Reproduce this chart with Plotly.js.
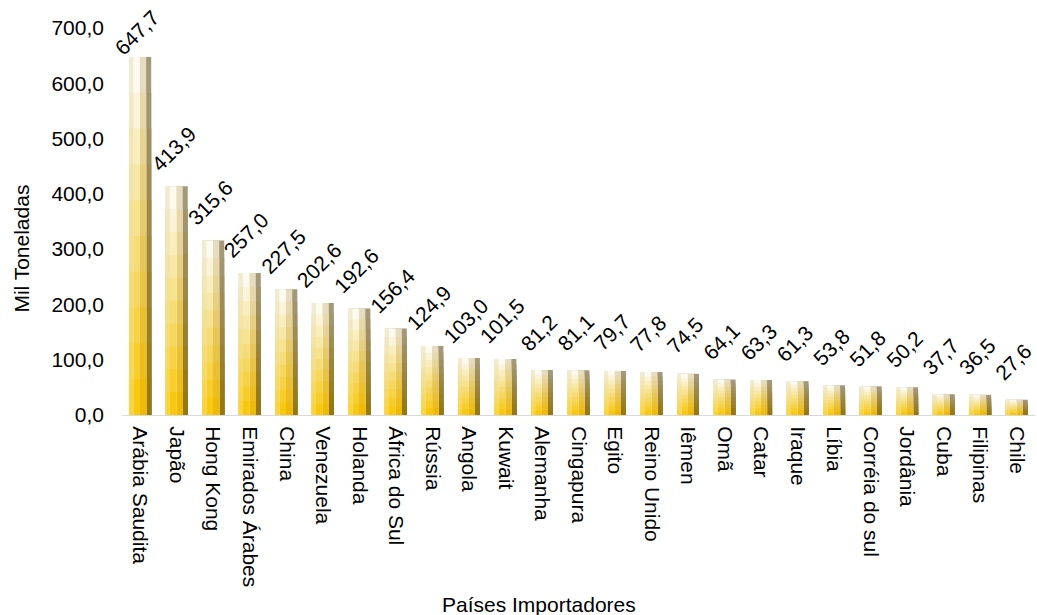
<!DOCTYPE html>
<html>
<head>
<meta charset="utf-8">
<script src="https://cdn.plot.ly/plotly-3.0.1.min.js"></script>
<style>
  html, body { margin: 0; padding: 0; background: #ffffff; }
  #chart { width: 1037px; height: 615px; }
</style>
</head>
<body>
<div id="chart"></div>
<script>
// Importações por país (mil toneladas)
const paises = [
  'Arábia Saudita', 'Japão', 'Hong Kong', 'Emirados Árabes', 'China',
  'Venezuela', 'Holanda', 'África do Sul', 'Rússia', 'Angola', 'Kuwait',
  'Alemanha', 'Cingapura', 'Egito', 'Reino Unido', 'Iêmen', 'Omã', 'Catar',
  'Iraque', 'Líbia', 'Corréia do sul', 'Jordânia', 'Cuba', 'Filipinas', 'Chile'
];
const toneladas = [
  647.7, 413.9, 315.6, 257.0, 227.5, 202.6, 192.6, 156.4, 124.9, 103.0, 101.5,
  81.2, 81.1, 79.7, 77.8, 74.5, 64.1, 63.3, 61.3, 53.8, 51.8, 50.2, 37.7, 36.5, 27.6
];
const yTicks = [0, 100, 200, 300, 400, 500, 600, 700];

// Page geometry
const W = 1037, H = 615;
const margin = { l: 122, r: 2, t: 28, b: 200, autoexpand: false };
const yMax = 700;
const pxPerUnit = (H - margin.t - margin.b) / yMax;

// Bevelled bar look: four vertical columns, each shaded from top to bottom
const barOff = -0.3;
const columns = [
  { width: 0.60, stops: ['#a39878', '#9e8640', '#96780e'] },  // right edge (dark)
  { width: 0.463, stops: ['#e6dcc0', '#e6c862', '#eeba08'] }, // face, right half
  { width: 0.29, stops: ['#fdfaf0', '#f6df82', '#f7c812'] },  // face, left half
  { width: 0.11, stops: ['#f1ebd2', '#f3df90', '#f9d440'] }   // left edge (light)
];
const STEPS = 10;

function hexToRgb(h) {
  return [parseInt(h.slice(1, 3), 16), parseInt(h.slice(3, 5), 16), parseInt(h.slice(5, 7), 16)];
}
function shade(stops, t) {
  const seg = t < 0.5 ? 0 : 1;
  const local = t < 0.5 ? t / 0.5 : (t - 0.5) / 0.5;
  const a = hexToRgb(stops[seg]), b = hexToRgb(stops[seg + 1]);
  const c = a.map((v, i) => Math.round(v + (b[i] - v) * local));
  return 'rgb(' + c.join(',') + ')';
}

const traces = [];
columns.forEach((col, ci) => {
  for (let k = 0; k < STEPS; k++) {
    const frac = (STEPS - k) / STEPS;
    const isMain = ci === 0 && k === 0;
    traces.push({
      type: 'bar',
      x: paises,
      y: isMain ? toneladas : toneladas.map(v => v * frac),
      width: col.width,
      offset: barOff,
      marker: { color: shade(col.stops, k / (STEPS - 1)), line: { width: 0 } },
      name: 'Mil Toneladas',
      showlegend: false,
      hoverinfo: isMain ? 'x+y' : 'skip'
    });
  }
});

const fmt = v => v.toFixed(1).replace('.', ',');

// Value labels, rotated above each bar
const labels = paises.map((p, i) => {
  const v = toneladas[i];
  return {
    x: p, y: v, xref: 'x', yref: 'y',
    text: fmt(v),
    showarrow: false,
    textangle: -45,
    xanchor: 'center', yanchor: 'middle',
    xshift: -3,
    yshift: Math.min(38, (yMax - v) * pxPerUnit - 5),
    font: { size: 21, color: '#000000' }
  };
});

// Axis titles
labels.push({
  xref: 'paper', yref: 'paper', x: 0.457, y: 0, yshift: -189,
  xanchor: 'center', yanchor: 'middle', showarrow: false,
  text: 'Países Importadores', font: { size: 21, color: '#000000' }
});
labels.push({
  xref: 'paper', yref: 'paper', x: -0.1095, y: 0.43,
  xanchor: 'center', yanchor: 'middle', showarrow: false, textangle: -90,
  text: 'Mil Toneladas', font: { size: 21, color: '#000000' }
});

const layout = {
  width: W, height: H,
  margin: margin,
  paper_bgcolor: '#ffffff', plot_bgcolor: '#ffffff',
  font: { family: 'Liberation Sans, Arial, sans-serif', size: 21, color: '#000000' },
  separators: ',.',
  barmode: 'overlay',
  showlegend: false,
  xaxis: {
    type: 'category',
    range: [-0.5, paises.length - 0.5],
    tickangle: 90,
    ticks: '',
    showline: true, linecolor: '#d9d9d9', linewidth: 1,
    showgrid: false, zeroline: false,
    ticklabelstandoff: 6,
    automargin: false,
    tickfont: { size: 21, color: '#000000' }
  },
  yaxis: {
    range: [0, yMax],
    tickvals: yTicks,
    tickformat: '.1f',
    ticks: '',
    showline: false, showgrid: false, zeroline: false,
    ticklabelstandoff: 17,
    automargin: false,
    tickfont: { size: 21, color: '#000000' }
  },
  annotations: labels
};

Plotly.newPlot('chart', traces, layout, { displayModeBar: false, responsive: false });
</script>
</body>
</html>
